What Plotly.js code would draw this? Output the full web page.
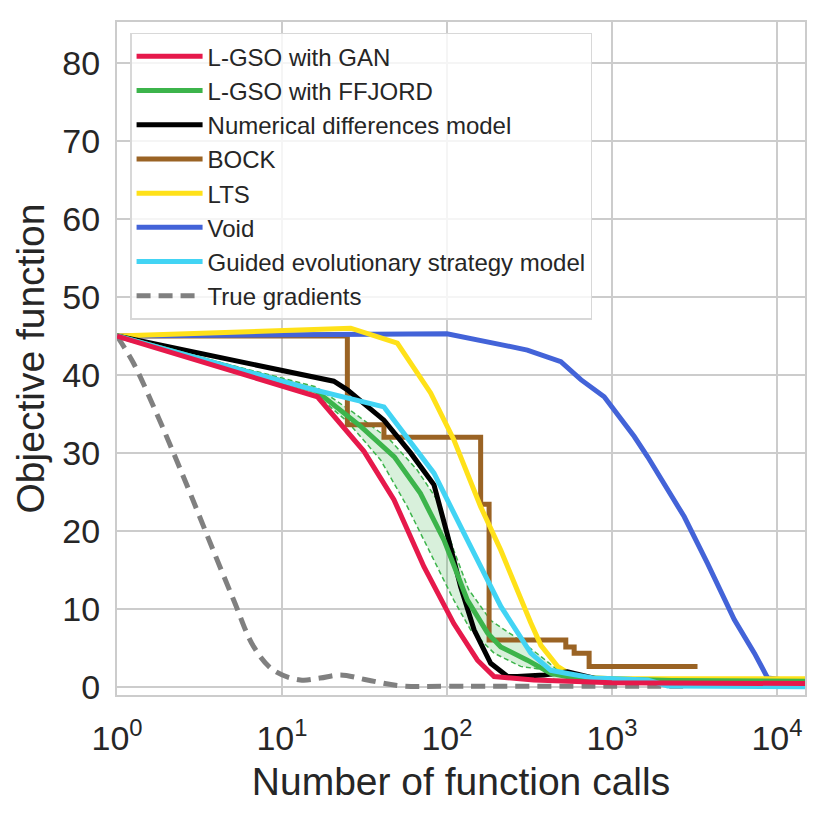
<!DOCTYPE html>
<html>
<head>
<meta charset="utf-8">
<script src="https://cdn.plot.ly/plotly-3.0.1.min.js"></script>
<style>
  body { margin: 0; background: #fff; }
  #chart { width: 830px; height: 818px; }
</style>
</head>
<body>
<div id="chart"></div>
<script>
// values (x = function calls, y = objective)
var ganX = [1, 16.4, 31.4, 47.7, 72.5, 110, 153, 193, 336, 1000, 15000];
var ganY = [45, 37.2, 30.2, 24.0, 15.4, 8.1, 3.4, 1.3, 0.86, 0.5, 0.4];

var ffjordX = [1, 16, 30, 48, 69, 96, 133, 176, 212, 307, 426, 590, 2300, 15000];
var ffjordY = [45, 38.0, 33.4, 29.5, 24.8, 18.8, 11.1, 6.9, 5.1, 3.4, 1.7, 1.1, 0.8, 0.7];
var ffjordHiX = [1, 16, 27, 45, 66, 87, 110, 135, 184, 250, 370, 490, 700];
var ffjordHiY = [45, 38.5, 35.2, 31.7, 27.8, 24.0, 17.5, 12.5, 8.5, 6.6, 3.9, 1.8, 0.9];
var ffjordLoX = [1, 16, 25, 39.6, 57.5, 83.4, 110, 139, 193, 280, 406, 446, 700];
var ffjordLoY = [45, 37.5, 34.0, 29.1, 23.1, 16.3, 11.1, 7.3, 4.3, 2.6, 2.1, 0.9, 0.6];

var numX = [1, 20.6, 24.9, 41.5, 60.2, 83.4, 100, 121, 146, 184, 233, 267, 388, 538, 780, 1000, 15000];
var numY = [45, 39.2, 38.1, 34.2, 30.0, 25.9, 19.7, 12.8, 7.3, 3.0, 1.3, 1.3, 1.5, 1.9, 1.1, 0.6, 0.5];

var bockX = [1, 24.9, 41.5, 160, 180, 525, 590, 727, 3300];
var bockY = [45, 33.6, 32.0, 23.4, 6.0, 5.1, 4.3, 2.6, 2.6];

var ltsX = [1, 26.1, 50, 79.6, 110, 160, 212, 280, 322, 371, 468, 590, 1000, 15000];
var ltsY = [45, 46.0, 44.1, 37.7, 31.7, 23.1, 17.5, 11.1, 8.2, 5.3, 2.6, 1.3, 1.0, 1.0];

var voidX = [1, 100, 212, 307, 490, 648, 897, 1365, 1645, 2743, 3800, 5510, 7300, 8790, 11100, 15000];
var voidY = [45, 45.3, 43.9, 43.2, 41.7, 39.4, 37.2, 32.1, 29.5, 21.8, 15.8, 8.6, 4.3, 1.1, 0.86, 0.86];

var gesX = [1, 15.6, 41.5, 83.4, 133, 212, 322, 426, 538, 780, 1645, 2175, 15000];
var gesY = [45, 38.1, 35.9, 27.4, 18.8, 10.3, 4.3, 2.1, 1.7, 1.1, 0.86, 0.1, 0.0];

var trueX = [1, 1.26, 1.67, 2.2, 2.78, 3.68, 5.1, 6.75, 8.9, 12.9, 17, 22.6, 32.9, 52.4, 100, 1000, 3000];
var trueY = [45, 41.5, 35.9, 30.0, 24.8, 18.4, 11.1, 5.1, 2.1, 0.86, 1.1, 1.5, 0.86, 0.1, 0.05, 0.05, 0.05];

var tickVals = [1, 10, 100, 1000, 10000];
var tickText = ['10<sup>0</sup>', '10<sup>1</sup>', '10<sup>2</sup>', '10<sup>3</sup>', '10<sup>4</sup>'];

var font = 'Liberation Sans, Arial, sans-serif';
var ink = '#262626';
var LW = 5;

function line(name, x, y, color, rank, extra) {
    var t = {
        x: x, y: y, name: name, type: 'scatter', mode: 'lines',
        line: { color: color, width: LW },
        legendrank: rank
    };
    for (var k in extra) t[k] = extra[k];
    return t;
}

// band polygon for FFJORD (upper edge then lower edge reversed)
var bandX = ffjordHiX.concat(ffjordLoX.slice().reverse());
var bandY = ffjordHiY.concat(ffjordLoY.slice().reverse());

var donnees = [
    { x: bandX, y: bandY, type: 'scatter', mode: 'lines', fill: 'toself',
      fillcolor: 'rgba(60,180,75,0.2)', line: { width: 0 }, showlegend: false, hoverinfo: 'skip' },
    { x: ffjordHiX, y: ffjordHiY, type: 'scatter', mode: 'lines', showlegend: false,
      line: { color: '#3cb44b', width: 1.5, dash: '5px,3px' } },
    { x: ffjordLoX, y: ffjordLoY, type: 'scatter', mode: 'lines', showlegend: false,
      line: { color: '#3cb44b', width: 1.5, dash: '5px,3px' } },
    line('True gradients', trueX, trueY, '#808080', 8, { line: { color: '#808080', width: LW, dash: '14px,8px', shape: 'spline' } }),
    line('BOCK', bockX, bockY, '#9a6324', 4, { line: { color: '#9a6324', width: LW, shape: 'hv' } }),
    line('Void', voidX, voidY, '#4363d8', 6),
    line('LTS', ltsX, ltsY, '#ffe119', 5),
    line('Numerical differences model', numX, numY, '#000000', 3),
    line('L-GSO with FFJORD', ffjordX, ffjordY, '#3cb44b', 2),
    line('Guided evolutionary strategy model', gesX, gesY, '#42d4f4', 7),
    line('L-GSO with GAN', ganX, ganY, '#e6194b', 1)
];

var layout = {
    width: 830,
    height: 818,
    margin: { l: 117, r: 25, t: 22, b: 123 },
    paper_bgcolor: '#ffffff',
    plot_bgcolor: '#ffffff',
    font: { family: font, color: ink },
    showlegend: true,
    legend: {
        x: 0.019, y: 0.984, xanchor: 'left', yanchor: 'top',
        bgcolor: 'rgba(255,255,255,0.8)', bordercolor: '#d8d8d8', borderwidth: 1.5,
        font: { size: 24, family: font, color: ink },
        itemwidth: 66, tracegroupgap: 0
    },
    xaxis: {
        type: 'log', range: [0, 4.17],
        tickvals: tickVals, ticktext: tickText,
        tickfont: { size: 34 },
        showgrid: true, gridcolor: '#cccccc', gridwidth: 1.5,
        showline: true, linecolor: '#cccccc', linewidth: 2, mirror: true,
        zeroline: false, ticks: '', ticklabelstandoff: 12,
        title: { text: 'Number of function calls', font: { size: 39 }, standoff: 12 }
    },
    yaxis: {
        range: [-1.07, 85.3],
        tickvals: [0, 10, 20, 30, 40, 50, 60, 70, 80],
        tickfont: { size: 34 },
        showgrid: true, gridcolor: '#cccccc', gridwidth: 1.5,
        showline: true, linecolor: '#cccccc', linewidth: 2, mirror: true,
        zeroline: false, ticks: '', ticklabelstandoff: 8,
        title: { text: 'Objective function', font: { size: 39 }, standoff: 6 }
    }
};

Plotly.newPlot('chart', donnees, layout, { displayModeBar: false });
</script>
</body>
</html>
